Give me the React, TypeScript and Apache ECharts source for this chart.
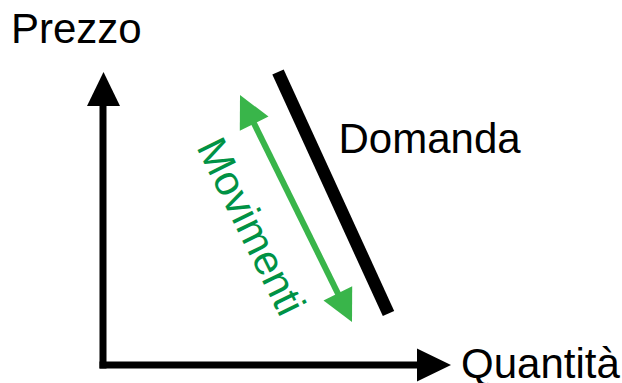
import React, { useEffect, useRef } from "react";
import * as echarts from "echarts";

// Labels of the diagram
const axisLabels: string[] = ["Prezzo", "Quantità"];
const curveLabels: string[] = ["Domanda"];
const movementLabels: string[] = ["Movimenti"];

const FONT = '"Liberation Sans", Arial, Helvetica, sans-serif';
const FS = 42;
const BLACK = "#000000";
const GREEN = "#39B54A";
const DARK_GREEN = "#009245";

function arrowHead(tip: [number, number], dir: [number, number], len: number, half: number) {
  const n = Math.hypot(dir[0], dir[1]);
  const d = [dir[0] / n, dir[1] / n];
  const p = [-d[1], d[0]];
  const bx = tip[0] - d[0] * len;
  const by = tip[1] - d[1] * len;
  return [
    [tip[0], tip[1]],
    [bx + p[0] * half, by + p[1] * half],
    [bx - p[0] * half, by - p[1] * half],
  ];
}

export default function App() {
  const ref = useRef<HTMLDivElement>(null);
  useEffect(() => {
    document.body.style.margin = "0";
    if (!ref.current) return;
    const chart = echarts.init(ref.current, undefined, { renderer: "svg" });

    const gTop: [number, number] = [240, 95];
    const gBot: [number, number] = [352, 322];
    const gd: [number, number] = [gBot[0] - gTop[0], gBot[1] - gTop[1]];
    const gn = Math.hypot(gd[0], gd[1]);
    const gu = [gd[0] / gn, gd[1] / gn];
    const headLen = 32;
    const angle = Math.atan2(gd[1], gd[0]);
    const mid = FS * 0.347;
    // text placement: baseline start, shifted "up" to its middle line
    const up = [gu[1], -gu[0]];
    const tx = 196 + up[0] * mid;
    const ty = 147 + up[1] * mid;

    const textStyle = (text: string, fill: string) => ({
      text,
      font: `${FS}px ${FONT}`,
      fill,
      textAlign: "left",
      textVerticalAlign: "middle",
    });

    chart.setOption({
      animation: false,
      backgroundColor: "#ffffff",
      graphic: [
        // vertical axis
        { type: "line", shape: { x1: 103, y1: 100, x2: 103, y2: 368.5 }, style: { stroke: BLACK, lineWidth: 7 } },
        { type: "polygon", shape: { points: [[103.5, 72], [87, 106], [120, 106]] }, style: { fill: BLACK } },
        // horizontal axis
        { type: "line", shape: { x1: 99.5, y1: 365, x2: 420, y2: 365 }, style: { stroke: BLACK, lineWidth: 7 } },
        { type: "polygon", shape: { points: [[451, 365], [417, 348.5], [417, 381.5]] }, style: { fill: BLACK } },
        // demand line
        { type: "line", shape: { x1: 278, y1: 72, x2: 388.5, y2: 313.5 }, style: { stroke: BLACK, lineWidth: 12.5, lineCap: "butt" } },
        // green double arrow
        {
          type: "line",
          shape: {
            x1: gTop[0] + gu[0] * (headLen - 2),
            y1: gTop[1] + gu[1] * (headLen - 2),
            x2: gBot[0] - gu[0] * (headLen - 2),
            y2: gBot[1] - gu[1] * (headLen - 2),
          },
          style: { stroke: GREEN, lineWidth: 6 },
        },
        { type: "polygon", shape: { points: arrowHead(gTop, [-gd[0], -gd[1]], headLen, 16) }, style: { fill: GREEN } },
        { type: "polygon", shape: { points: arrowHead(gBot, gd, headLen, 16) }, style: { fill: GREEN } },
        // texts
        { type: "text", x: 11, y: 43 - mid, style: textStyle(axisLabels[0], BLACK) },
        { type: "text", x: 461, y: 378 - mid, style: textStyle(axisLabels[1], BLACK) },
        { type: "text", x: 338.5, y: 153 - mid, style: textStyle(curveLabels[0], BLACK) },
        { type: "text", x: tx, y: ty, rotation: -angle, style: textStyle(movementLabels[0], DARK_GREEN) },
      ],
    });
    return () => chart.dispose();
  }, []);
  return <div ref={ref} style={{ width: 622, height: 383 }} />;
}
